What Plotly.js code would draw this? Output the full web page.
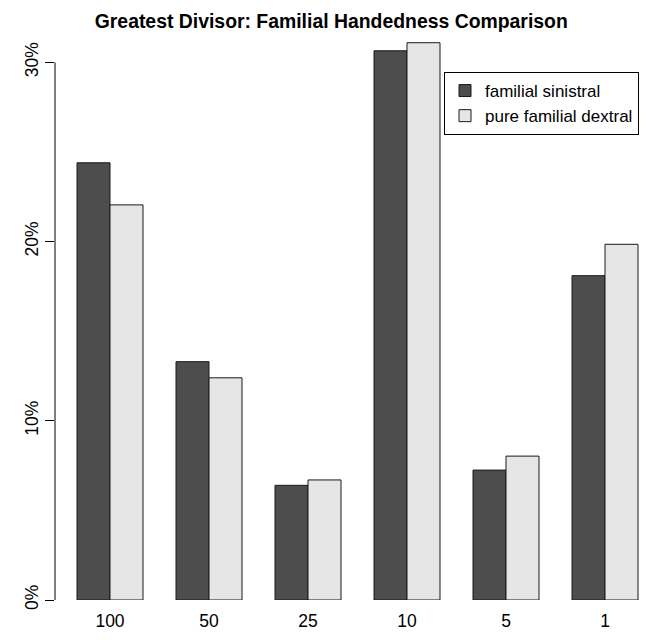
<!DOCTYPE html>
<html>
<head>
<meta charset="utf-8">
<script src="https://cdn.plot.ly/plotly-3.0.1.min.js"></script>
<style>html,body{margin:0;padding:0;background:#fff;}#chart{width:647px;height:640px;}</style>
</head>
<body>
<div id="chart"></div>
<script>
var categories = ['100', '50', '25', '10', '5', '1'];
var sinistral = [24.4, 13.3, 6.4, 30.65, 7.25, 18.1];
var dextral = [22.05, 12.4, 6.7, 31.1, 8.03, 19.85];
var seriesNames = ['familial sinistral', 'pure familial dextral'];
var yTicks = [0, 10, 20, 30];
var yTickText = ['0%', '10%', '20%', '30%'];

var font = 'Liberation Sans, Arial, Helvetica, sans-serif';

var traces = [
  {type: 'bar', x: categories, y: sinistral, name: seriesNames[0],
   marker: {color: '#4D4D4D', line: {color: '#1a1a1a', width: 1}}},
  {type: 'bar', x: categories, y: dextral, name: seriesNames[1],
   marker: {color: '#E6E6E6', line: {color: '#1a1a1a', width: 1}}}
];

var layout = {
  width: 647, height: 640,
  margin: {l: 55, r: 0, t: 35, b: 40},
  paper_bgcolor: '#fff', plot_bgcolor: '#fff',
  barmode: 'group', bargap: 1/3, bargroupgap: 0,
  title: {text: '<b>Greatest Divisor: Familial Handedness Comparison</b>',
          font: {family: font, size: 19.4, color: '#000'},
          x: 0.512, xref: 'container', xanchor: 'center',
          y: 1 - 21/640, yref: 'container', yanchor: 'middle'},
  xaxis: {type: 'category', range: [-0.5556, 5.4242], showline: false, showgrid: false,
          zeroline: false, ticks: '', tickfont: {family: font, size: 17.5, color: '#000'},
          ticklabelstandoff: 8},
  yaxis: {range: [0, 31.53], showgrid: false, zeroline: false, showline: false,
          tickvals: yTicks, ticktext: yTickText, ticks: 'outside', ticklen: 9,
          tickcolor: '#000', tickwidth: 1, tickangle: -90,
          tickfont: {family: font, size: 17.5, color: '#000'}},
  showlegend: true,
  legend: {x: (444-55)/592, y: (600-72)/565, xanchor: 'left', yanchor: 'top',
           bordercolor: '#000', borderwidth: 1, bgcolor: '#fff',
           font: {family: font, size: 17, color: '#000'},
           traceorder: 'normal', itemwidth: 30},
  shapes: [{type: 'line', xref: 'paper', yref: 'y', x0: 0, x1: 0,
            y0: yTicks[0], y1: yTicks[yTicks.length-1],
            line: {color: '#000', width: 1}}]
};

Plotly.newPlot('chart', traces, layout, {displayModeBar: false, staticPlot: true});
</script>
</body>
</html>
